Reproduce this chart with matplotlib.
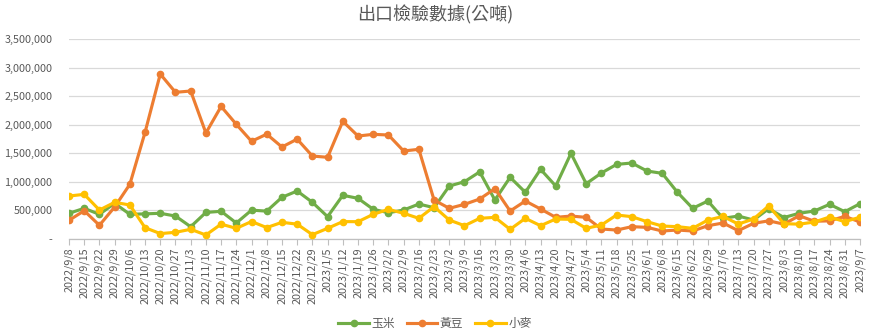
import numpy as np
import matplotlib
matplotlib.use('Agg')
import matplotlib.pyplot as plt
import matplotlib.ticker as ticker

plt.rcParams['font.family'] = ['Noto Sans CJK TC', 'DejaVu Sans']

# weekly export inspection dates
dates = ['2022/9/8', '2022/9/15', '2022/9/22', '2022/9/29', '2022/10/6', '2022/10/13',
         '2022/10/20', '2022/10/27', '2022/11/3', '2022/11/10', '2022/11/17', '2022/11/24',
         '2022/12/1', '2022/12/8', '2022/12/15', '2022/12/22', '2022/12/29', '2023/1/5',
         '2023/1/12', '2023/1/19', '2023/1/26', '2023/2/2', '2023/2/9', '2023/2/16',
         '2023/2/23', '2023/3/2', '2023/3/9', '2023/3/16', '2023/3/23', '2023/3/30',
         '2023/4/6', '2023/4/13', '2023/4/20', '2023/4/27', '2023/5/4', '2023/5/11',
         '2023/5/18', '2023/5/25', '2023/6/1', '2023/6/8', '2023/6/15', '2023/6/22',
         '2023/6/29', '2023/7/6', '2023/7/13', '2023/7/20', '2023/7/27', '2023/8/3',
         '2023/8/10', '2023/8/17', '2023/8/24', '2023/8/31', '2023/9/7']

# metric tons
corn = [450000, 537000, 432000, 625000, 432000, 440000, 450000, 402000, 215000, 465000,
        485000, 280000, 505000, 488000, 730000, 840000, 642000, 391000, 765000, 712000,
        520000, 460000, 507000, 612000, 548000, 927000, 1003000, 1175000, 682000, 1080000,
        817000, 1220000, 927000, 1499000, 968000, 1155000, 1306000, 1330000, 1190000, 1149000,
        817000, 537000, 665000, 362000, 402000, 332000, 530000, 376000, 450000, 490000,
        607000, 478000, 618000]
soybeans = [327000, 495000, 240000, 560000, 957000, 1867000, 2887000, 2567000, 2590000, 1855000,
            2320000, 2007000, 1710000, 1835000, 1610000, 1748000, 1452000, 1430000, 2060000, 1802000,
            1832000, 1820000, 1540000, 1570000, 682000, 537000, 607000, 700000, 881000, 490000,
            665000, 525000, 379000, 402000, 379000, 175000, 157000, 216000, 204000, 140000,
            157000, 140000, 233000, 280000, 146000, 274000, 318000, 260000, 408000, 310000,
            318000, 396000, 298000]
wheat = [752000, 782000, 507000, 642000, 595000, 198000, 95000, 117000, 170000, 70000,
         260000, 187000, 306000, 200000, 292000, 260000, 76000, 187000, 305000, 303000,
         432000, 520000, 450000, 362000, 566000, 332000, 233000, 362000, 379000, 169000,
         362000, 233000, 350000, 344000, 187000, 245000, 420000, 391000, 303000, 227000,
         216000, 187000, 332000, 395000, 262000, 350000, 580000, 268000, 260000, 297000,
         385000, 303000, 382000]

gray_text = '#595959'
x = np.arange(len(dates))

fig = plt.figure(figsize=(8.7, 3.34), dpi=100)
ax = fig.add_axes([0.0793, 0.2844, 0.9092, 0.5988])

ax.plot(x, corn, '-o', color='#70AD47', lw=2.25, ms=4.5, label='玉米', zorder=3)
ax.plot(x, soybeans, '-o', color='#ED7D31', lw=2.25, ms=4.5, label='黃豆', zorder=3)
ax.plot(x, wheat, '-o', color='#FFC000', lw=2.25, ms=4.5, label='小麥', zorder=3)

ax.set_xlim(0, len(dates) - 1)
ax.set_ylim(0, 3500000)
ax.yaxis.set_major_locator(ticker.MultipleLocator(500000))
ax.yaxis.set_major_formatter(ticker.FuncFormatter(
    lambda v, p: '-' if v == 0 else f'{int(v):,}'))
ax.set_xticks(x)
ax.set_xticklabels(dates, rotation=90, fontsize=7.8, color=gray_text)
ax.tick_params(axis='y', length=0, labelsize=7.8, labelcolor=gray_text, pad=12)
ax.tick_params(axis='x', length=4, color='#BFBFBF', width=0.8, pad=2)

ax.grid(axis='y', color='#D9D9D9', lw=0.9)
ax.set_axisbelow(True)
for s in ['top', 'right', 'left']:
    ax.spines[s].set_visible(False)
ax.spines['bottom'].set_color('#BFBFBF')
ax.spines['bottom'].set_linewidth(0.9)

fig.suptitle('出口檢驗數據(公噸)', fontsize=13, color=gray_text, y=0.985)
fig.legend(loc='center', bbox_to_anchor=(0.5, 0.03), ncol=3, frameon=False,
           fontsize=8.5, labelcolor=gray_text, handlelength=2.6, handletextpad=0.2,
           columnspacing=1.0)

fig.savefig('out.png', dpi=100)
